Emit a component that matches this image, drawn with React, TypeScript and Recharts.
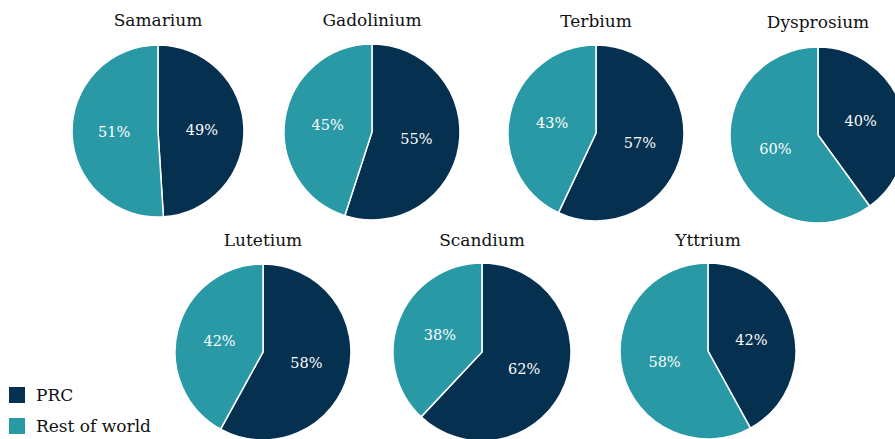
import { PieChart, Pie, Cell } from "recharts";

const elements = ["Samarium", "Gadolinium", "Terbium", "Dysprosium", "Lutetium", "Scandium", "Yttrium"];
const prcShare = [49, 55, 57, 40, 58, 62, 42];
const restShare = [51, 45, 43, 60, 42, 38, 58];
const seriesNames = ["PRC", "Rest of world"];

const NAVY = "#06304f";
const TEAL = "#2999a5";
const FONT = "'DejaVu Serif', Georgia, serif";

// pie placement in page pixels
const layout = [
  { cx: 158, cy: 131, r: 86, ty: 20 },
  { cx: 372, cy: 132, r: 88, ty: 20 },
  { cx: 596, cy: 133, r: 88, ty: 21 },
  { cx: 818, cy: 135, r: 88, ty: 22 },
  { cx: 263, cy: 352, r: 88, ty: 240 },
  { cx: 482, cy: 352, r: 89, ty: 240 },
  { cx: 708, cy: 351, r: 88, ty: 240 },
];

const RAD = Math.PI / 180;

const renderLabel = (props: any) => {
  const { cx, cy, midAngle, outerRadius, value } = props;
  const d = outerRadius * 0.51;
  const x = cx + d * Math.cos(-midAngle * RAD);
  const y = cy + d * Math.sin(-midAngle * RAD);
  return (
    <text
      x={x}
      y={y}
      fill="#ffffff"
      textAnchor="middle"
      dominantBaseline="central"
      fontFamily={FONT}
      fontSize={14.5}
    >
      {value}%
    </text>
  );
};

export default function App() {
  return (
    <div
      style={{
        position: "fixed",
        left: 0,
        top: 0,
        width: 895,
        height: 439,
        overflow: "hidden",
        background: "#fff",
        fontFamily: FONT,
      }}
    >
      <PieChart
        width={895}
        height={439}
        margin={{ top: 0, right: 0, bottom: 0, left: 0 }}
        style={{ position: "absolute", left: 0, top: 0 }}
      >
        {elements.map((name, i) => {
          const data = [
            { name: seriesNames[0], value: prcShare[i] },
            { name: seriesNames[1], value: restShare[i] },
          ];
          const pos = layout[i];
          return (
            <Pie
              key={name}
              data={data}
              dataKey="value"
              nameKey="name"
              cx={pos.cx}
              cy={pos.cy}
              outerRadius={pos.r}
              innerRadius={0}
              startAngle={90}
              endAngle={-270}
              stroke="#ffffff"
              strokeWidth={1.5}
              label={renderLabel}
              labelLine={false}
              isAnimationActive={false}
            >
              <Cell fill={NAVY} />
              <Cell fill={TEAL} />
            </Pie>
          );
        })}
      </PieChart>

      {elements.map((name, i) => (
        <div
          key={name}
          style={{
            position: "absolute",
            left: layout[i].cx,
            top: layout[i].ty,
            transform: "translate(-50%, -50%)",
            fontSize: 17,
            color: "#111",
            whiteSpace: "nowrap",
          }}
        >
          {name}
        </div>
      ))}

      {seriesNames.map((s, i) => (
        <div
          key={s}
          style={{
            position: "absolute",
            left: 9,
            top: 387 + i * 31,
            display: "flex",
            alignItems: "center",
            height: 16,
            fontSize: 17,
            color: "#111",
          }}
        >
          <span
            style={{
              display: "inline-block",
              width: 16,
              height: 16,
              background: i === 0 ? NAVY : TEAL,
              marginRight: 11,
            }}
          />
          {s}
        </div>
      ))}
    </div>
  );
}
